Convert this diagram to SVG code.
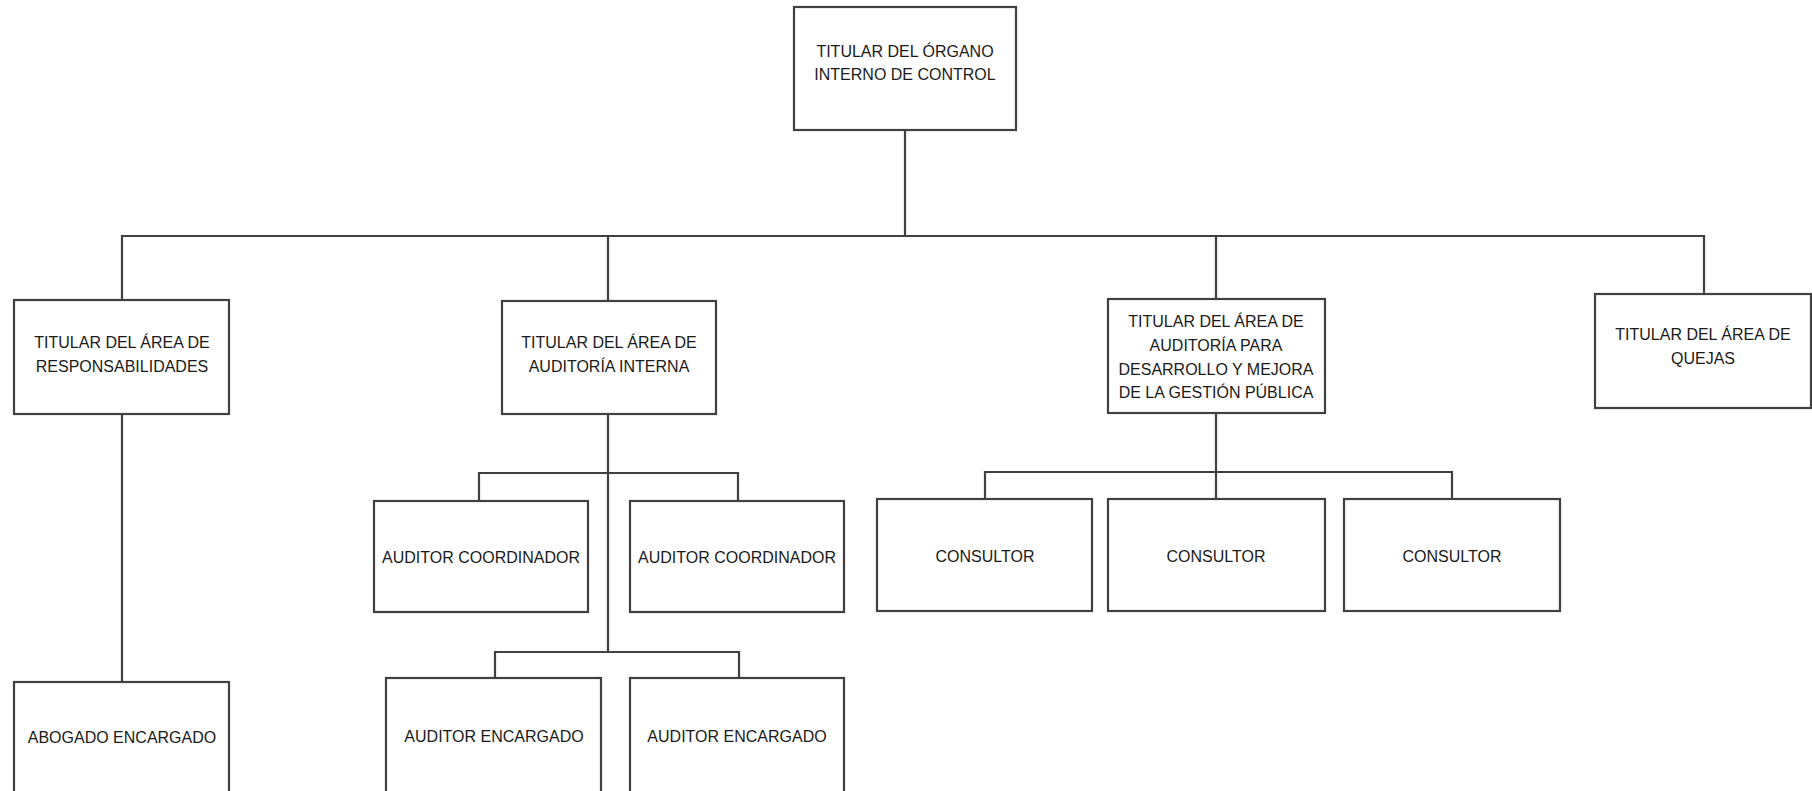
<svg xmlns="http://www.w3.org/2000/svg" width="1812" height="791" viewBox="0 0 1812 791">
<style>
.box{fill:#ffffff;stroke:#404040;stroke-width:2.2}
.ln{fill:none;stroke:#404040;stroke-width:2.2}
text{font-family:"Liberation Sans",Arial,sans-serif;font-size:16px;fill:#1a1a1a;text-anchor:middle}
</style>
<rect width="1812" height="791" fill="#ffffff"/>
<g id="connectors">
<path class="ln" d="M905,130 V236"/>
<path class="ln" d="M122,300 V236 H1704 V294"/>
<path class="ln" d="M608,236 V301"/>
<path class="ln" d="M1216,236 V299"/>
<path class="ln" d="M122,414 V682"/>
<path class="ln" d="M608,414 V652"/>
<path class="ln" d="M479,501 V473 H738 V501"/>
<path class="ln" d="M495,678 V652 H739 V678"/>
<path class="ln" d="M1216,413 V499"/>
<path class="ln" d="M985,499 V472 H1452 V499"/>
</g>
<g id="n-titular-oic">
<rect class="box" x="794" y="7" width="222" height="123"/>
<text x="905" y="57">TITULAR DEL ÓRGANO</text>
<text x="905" y="80">INTERNO DE CONTROL</text>
</g>
<g id="n-responsabilidades">
<rect class="box" x="14" y="300" width="215" height="114"/>
<text x="122" y="348">TITULAR DEL ÁREA DE</text>
<text x="122" y="372">RESPONSABILIDADES</text>
</g>
<g id="n-auditoria-interna">
<rect class="box" x="502" y="301" width="214" height="113"/>
<text x="609" y="348">TITULAR DEL ÁREA DE</text>
<text x="609" y="372">AUDITORÍA INTERNA</text>
</g>
<g id="n-auditoria-desarrollo">
<rect class="box" x="1108" y="299" width="217" height="114"/>
<text x="1216" y="327">TITULAR DEL ÁREA DE</text>
<text x="1216" y="351">AUDITORÍA PARA</text>
<text x="1216" y="375">DESARROLLO Y MEJORA</text>
<text x="1216" y="398">DE LA GESTIÓN PÚBLICA</text>
</g>
<g id="n-quejas">
<rect class="box" x="1595" y="294" width="216" height="114"/>
<text x="1703" y="340">TITULAR DEL ÁREA DE</text>
<text x="1703" y="364">QUEJAS</text>
</g>
<g id="n-coord-1">
<rect class="box" x="374" y="501" width="214" height="111"/>
<text x="481" y="563">AUDITOR COORDINADOR</text>
</g>
<g id="n-coord-2">
<rect class="box" x="630" y="501" width="214" height="111"/>
<text x="737" y="563">AUDITOR COORDINADOR</text>
</g>
<g id="n-consultor-1">
<rect class="box" x="877" y="499" width="215" height="112"/>
<text x="985" y="562">CONSULTOR</text>
</g>
<g id="n-consultor-2">
<rect class="box" x="1108" y="499" width="217" height="112"/>
<text x="1216" y="562">CONSULTOR</text>
</g>
<g id="n-consultor-3">
<rect class="box" x="1344" y="499" width="216" height="112"/>
<text x="1452" y="562">CONSULTOR</text>
</g>
<g id="n-abogado">
<rect class="box" x="14" y="682" width="215" height="112"/>
<text x="122" y="743">ABOGADO ENCARGADO</text>
</g>
<g id="n-encargado-1">
<rect class="box" x="386" y="678" width="215" height="116"/>
<text x="494" y="742">AUDITOR ENCARGADO</text>
</g>
<g id="n-encargado-2">
<rect class="box" x="630" y="678" width="214" height="116"/>
<text x="737" y="742">AUDITOR ENCARGADO</text>
</g>
</svg>
